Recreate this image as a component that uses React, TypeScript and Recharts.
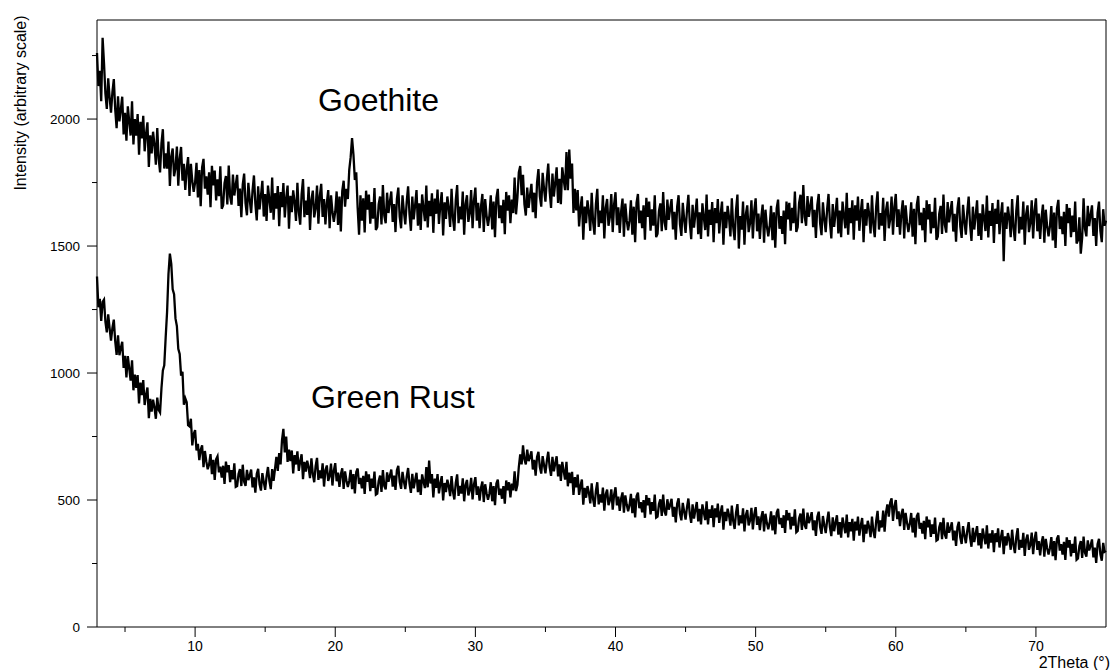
import { LineChart, Line, XAxis, YAxis, ReferenceLine } from 'recharts';

// XRD scans, 2theta 3.0 .. 75.0 deg in 0.1 deg steps (one row = one degree)
const goethite = [
  2260, 2130, 2190, 2070, 2320, 2220, 2100, 2040, 2160, 2085,
  2025, 2106, 2157, 2038, 1964, 2090, 1991, 2037, 2088, 1939,
  2025, 1915, 2050, 1990, 1935, 2070, 1900, 2000, 1935, 2020,
  1860, 1989, 1924, 2013, 1873, 1942, 1987, 1811, 1936, 1865,
  1950, 1900, 1820, 1965, 1845, 1790, 1905, 1960, 1805, 1865,
  1805, 1911, 1737, 1853, 1884, 1775, 1806, 1892, 1738, 1844,
  1890, 1757, 1824, 1721, 1803, 1850, 1697, 1824, 1756, 1713,
  1750, 1828, 1691, 1799, 1657, 1810, 1843, 1726, 1774, 1702,
  1790, 1653, 1816, 1739, 1797, 1680, 1763, 1696, 1814, 1647,
  1660, 1748, 1776, 1664, 1817, 1695, 1663, 1781, 1699, 1742,
  1780, 1658, 1726, 1614, 1742, 1785, 1668, 1621, 1749, 1682,
  1630, 1719, 1778, 1667, 1601, 1735, 1644, 1698, 1757, 1616,
  1705, 1599, 1738, 1682, 1631, 1770, 1604, 1708, 1647, 1736,
  1578, 1713, 1653, 1748, 1613, 1688, 1738, 1568, 1698, 1633,
  1719, 1674, 1599, 1749, 1634, 1584, 1704, 1764, 1614, 1679,
  1623, 1733, 1563, 1683, 1718, 1613, 1648, 1738, 1588, 1698,
  1745, 1615, 1685, 1585, 1670, 1720, 1570, 1700, 1635, 1595,
  1635, 1715, 1583, 1695, 1557, 1716, 1757, 1655, 1725, 1685,
  1800, 1850, 1925, 1860, 1760, 1790, 1650, 1545, 1700, 1600,
  1688, 1553, 1718, 1643, 1703, 1588, 1673, 1608, 1728, 1563,
  1575, 1665, 1695, 1585, 1740, 1620, 1590, 1710, 1630, 1675,
  1715, 1595, 1665, 1555, 1685, 1730, 1615, 1570, 1700, 1635,
  1585, 1675, 1735, 1625, 1560, 1695, 1605, 1660, 1720, 1580,
  1668, 1563, 1703, 1648, 1598, 1738, 1573, 1678, 1618, 1708,
  1552, 1687, 1627, 1722, 1587, 1662, 1712, 1542, 1672, 1607,
  1695, 1650, 1575, 1725, 1610, 1560, 1680, 1740, 1590, 1655,
  1605, 1715, 1545, 1665, 1700, 1595, 1630, 1720, 1570, 1680,
  1730, 1600, 1670, 1570, 1655, 1705, 1555, 1685, 1620, 1580,
  1620, 1700, 1565, 1675, 1535, 1690, 1725, 1610, 1660, 1590,
  1682, 1547, 1713, 1639, 1700, 1590, 1683, 1630, 1770, 1625,
  1690, 1790, 1815, 1700, 1780, 1665, 1620, 1730, 1650, 1700,
  1745, 1633, 1710, 1610, 1750, 1803, 1695, 1655, 1788, 1725,
  1675, 1765, 1825, 1715, 1650, 1785, 1695, 1750, 1810, 1670,
  1765, 1665, 1810, 1763, 1720, 1870, 1720, 1880, 1765, 1825,
  1630, 1725, 1640, 1720, 1577, 1648, 1696, 1525, 1655, 1590,
  1680, 1635, 1560, 1710, 1595, 1545, 1665, 1725, 1575, 1640,
  1590, 1700, 1530, 1650, 1685, 1580, 1615, 1705, 1555, 1665,
  1712, 1582, 1652, 1552, 1637, 1687, 1537, 1667, 1602, 1562,
  1600, 1680, 1545, 1655, 1515, 1670, 1705, 1590, 1640, 1570,
  1660, 1525, 1690, 1615, 1675, 1560, 1645, 1580, 1700, 1535,
  1548, 1638, 1668, 1558, 1713, 1593, 1563, 1683, 1603, 1648,
  1685, 1565, 1635, 1525, 1655, 1700, 1585, 1540, 1670, 1605,
  1552, 1642, 1702, 1592, 1527, 1662, 1572, 1627, 1687, 1547,
  1633, 1528, 1668, 1613, 1563, 1703, 1538, 1643, 1583, 1673,
  1515, 1650, 1590, 1685, 1550, 1625, 1675, 1505, 1635, 1570,
  1658, 1613, 1538, 1688, 1573, 1523, 1643, 1703, 1490, 1618,
  1565, 1675, 1505, 1625, 1660, 1555, 1590, 1680, 1530, 1640,
  1688, 1558, 1628, 1528, 1613, 1663, 1513, 1643, 1578, 1538,
  1578, 1658, 1523, 1633, 1493, 1648, 1683, 1568, 1618, 1548,
  1640, 1507, 1675, 1605, 1670, 1560, 1650, 1590, 1715, 1555,
  1575, 1670, 1702, 1590, 1740, 1615, 1580, 1697, 1615, 1658,
  1695, 1574, 1643, 1532, 1661, 1705, 1589, 1543, 1672, 1607,
  1555, 1645, 1705, 1595, 1530, 1665, 1575, 1630, 1690, 1550,
  1640, 1535, 1675, 1620, 1570, 1710, 1545, 1650, 1590, 1680,
  1525, 1660, 1600, 1695, 1560, 1635, 1685, 1515, 1645, 1580,
  1670, 1625, 1550, 1700, 1585, 1535, 1655, 1715, 1565, 1630,
  1580, 1690, 1520, 1640, 1675, 1570, 1605, 1695, 1545, 1655,
  1705, 1575, 1645, 1545, 1630, 1680, 1530, 1660, 1595, 1555,
  1592, 1672, 1537, 1647, 1507, 1662, 1697, 1582, 1632, 1562,
  1650, 1515, 1680, 1605, 1665, 1550, 1635, 1570, 1690, 1525,
  1538, 1628, 1658, 1548, 1703, 1583, 1553, 1673, 1593, 1638,
  1677, 1557, 1627, 1517, 1647, 1692, 1577, 1532, 1662, 1597,
  1545, 1635, 1695, 1585, 1520, 1655, 1565, 1620, 1680, 1540,
  1629, 1524, 1664, 1609, 1559, 1699, 1534, 1639, 1579, 1669,
  1512, 1647, 1587, 1682, 1547, 1622, 1672, 1440, 1632, 1567,
  1655, 1610, 1535, 1685, 1570, 1520, 1640, 1700, 1550, 1615,
  1565, 1675, 1505, 1625, 1660, 1555, 1590, 1680, 1530, 1640,
  1688, 1558, 1628, 1528, 1613, 1663, 1513, 1643, 1578, 1538,
  1577, 1657, 1522, 1632, 1492, 1647, 1682, 1567, 1617, 1547,
  1635, 1500, 1665, 1590, 1650, 1535, 1620, 1555, 1675, 1510,
  1523, 1613, 1470, 1533, 1688, 1568, 1538, 1658, 1578, 1623,
  1660, 1540, 1610, 1500, 1630, 1675, 1560, 1515, 1645, 1580,
  1600,
];

const greenRust = [
  1380, 1259, 1292, 1205, 1280, 1289, 1202, 1160, 1231, 1176,
  1128, 1178, 1210, 1125, 1071, 1148, 1070, 1099, 1123, 1020,
  1068, 983, 1067, 1018, 970, 1050, 932, 994, 942, 992,
  880, 962, 913, 972, 874, 914, 943, 822, 898, 848,
  895, 865, 820, 903, 855, 845, 940, 1010, 1030, 1140,
  1240, 1390, 1470, 1430, 1330, 1310, 1215, 1185, 1095, 1075,
  990, 1005, 875, 900, 885, 795, 790, 820, 715, 760,
  775, 695, 721, 657, 698, 715, 629, 693, 652, 621,
  640, 681, 602, 658, 579, 660, 672, 609, 631, 588,
  635, 563, 651, 609, 637, 570, 618, 581, 644, 552,
  555, 603, 622, 555, 639, 572, 556, 619, 578, 596,
  620, 550, 589, 529, 603, 623, 562, 537, 606, 571,
  540, 593, 630, 575, 543, 622, 575, 622, 670, 615,
  685, 640, 735, 780, 687, 750, 650, 698, 653, 695,
  605, 677, 640, 692, 615, 652, 680, 582, 650, 612,
  655, 628, 586, 664, 602, 570, 633, 666, 579, 617,
  585, 644, 553, 617, 636, 575, 594, 643, 557, 616,
  645, 574, 608, 552, 601, 625, 544, 613, 577, 551,
  575, 619, 543, 602, 526, 610, 624, 563, 587, 546,
  595, 524, 613, 572, 601, 535, 584, 548, 612, 521,
  525, 575, 596, 532, 618, 555, 542, 609, 572, 595,
  620, 553, 596, 540, 617, 635, 572, 544, 611, 573,
  543, 592, 626, 565, 528, 603, 546, 578, 607, 531,
  580, 520, 601, 573, 547, 630, 550, 655, 565, 602,
  510, 584, 548, 602, 526, 565, 594, 498, 567, 531,
  580, 555, 515, 594, 533, 502, 567, 601, 516, 556,
  525, 585, 495, 559, 579, 518, 538, 587, 502, 561,
  590, 520, 554, 498, 548, 573, 492, 562, 527, 501,
  525, 570, 495, 555, 480, 565, 580, 520, 545, 505,
  555, 486, 577, 538, 570, 510, 565, 538, 613, 535,
  560, 630, 680, 640, 715, 660, 640, 698, 653, 670,
  692, 620, 658, 596, 670, 690, 630, 604, 673, 637,
  605, 655, 690, 630, 595, 670, 613, 645, 672, 593,
  640, 575, 650, 615, 580, 650, 554, 608, 567, 611,
  520, 590, 550, 600, 520, 555, 581, 482, 548, 509,
  555, 529, 487, 566, 504, 473, 536, 570, 483, 522,
  490, 549, 458, 522, 541, 480, 499, 542, 462, 521,
  550, 479, 513, 457, 506, 530, 450, 518, 482, 456,
  480, 524, 448, 507, 431, 515, 529, 468, 492, 451,
  500, 430, 519, 479, 508, 443, 492, 457, 521, 431,
  435, 484, 503, 437, 521, 455, 439, 503, 462, 481,
  505, 434, 473, 412, 486, 507, 446, 420, 489, 454,
  423, 472, 506, 445, 410, 483, 427, 461, 492, 416,
  465, 404, 483, 452, 421, 495, 404, 463, 430, 479,
  393, 467, 432, 486, 410, 450, 479, 383, 453, 417,
  466, 440, 399, 478, 417, 386, 450, 484, 400, 439,
  408, 467, 376, 440, 460, 400, 419, 469, 384, 443,
  472, 402, 436, 381, 431, 456, 376, 446, 410, 385,
  410, 455, 380, 440, 365, 450, 465, 405, 430, 390,
  440, 370, 460, 420, 449, 384, 434, 399, 463, 373,
  378, 428, 447, 382, 466, 401, 386, 450, 409, 428,
  452, 381, 420, 359, 433, 454, 393, 367, 437, 401,
  370, 419, 454, 393, 358, 432, 377, 411, 440, 364,
  413, 352, 431, 400, 369, 443, 353, 413, 377, 426,
  340, 415, 380, 435, 360, 399, 429, 334, 403, 368,
  418, 393, 354, 435, 377, 350, 418, 457, 376, 420,
  392, 458, 375, 450, 483, 435, 490, 507, 418, 475,
  500, 425, 455, 397, 444, 465, 382, 449, 411, 383,
  406, 449, 372, 430, 353, 436, 449, 387, 410, 368,
  418, 346, 435, 393, 422, 355, 404, 367, 431, 340,
  344, 393, 412, 346, 430, 364, 348, 412, 371, 389,
  412, 341, 380, 319, 393, 414, 353, 327, 397, 361,
  330, 379, 413, 352, 316, 390, 334, 368, 397, 321,
  370, 309, 388, 357, 326, 400, 309, 368, 332, 381,
  295, 369, 334, 388, 313, 353, 382, 287, 357, 321,
  370, 344, 304, 383, 322, 291, 355, 389, 304, 343,
  312, 371, 280, 344, 364, 304, 323, 372, 287, 346,
  375, 304, 338, 282, 332, 357, 277, 347, 311, 285,
  310, 354, 279, 338, 263, 347, 361, 301, 326, 285,
  335, 264, 353, 313, 342, 278, 327, 292, 356, 265,
  270, 319, 338, 272, 356, 292, 277, 341, 301, 320,
  345, 274, 313, 252, 326, 347, 286, 261, 331, 296,
  300,
];

// measurement grid: 3.0 .. 75.0 deg, 0.1 deg steps
const twoTheta = goethite.map((_, i) => (30 + i) / 10);

const xTicks = [5, 10, 15, 20, 25, 30, 35, 40, 45, 50, 55, 60, 65, 70];
const yTicks = [0, 250, 500, 750, 1000, 1250, 1500, 1750, 2000, 2250];

const FONT = '"Liberation Sans", Arial, sans-serif';

const data = twoTheta.map((t, i) => ({ t, goethite: goethite[i], greenRust: greenRust[i] }));

function YTick(props: any) {
  const { x, y, payload } = props;
  const major = payload.value % 500 === 0;
  return (
    <g>
      <line x1={x - (major ? 10 : 5)} x2={x} y1={y} y2={y} stroke="#000" />
      {major && (
        <text x={x - 17} y={y} textAnchor="end" dominantBaseline="central" fontSize={13.5} fontFamily={FONT} fill="#000">
          {payload.value}
        </text>
      )}
    </g>
  );
}

function XTick(props: any) {
  const { x, y, payload } = props;
  const major = payload.value % 10 === 0;
  return (
    <g>
      <line x1={x} x2={x} y1={y} y2={y + (major ? 10 : 5)} stroke="#000" />
      {major && (
        <text x={x} y={y + 24} textAnchor="middle" fontSize={14} fontFamily={FONT} fill="#000">
          {payload.value}
        </text>
      )}
    </g>
  );
}

export default function App() {
  return (
    <div style={{ position: 'absolute', left: 0, top: 0, width: 1113, height: 670, background: '#fff' }}>
      <LineChart width={1113} height={670} data={data} margin={{ top: 20, right: 7, bottom: 0, left: 0 }}>
        <XAxis
          dataKey="t"
          type="number"
          domain={[3, 75]}
          ticks={xTicks}
          height={43}
          tickSize={0}
          tickMargin={0}
          tickLine={false}
          axisLine={{ stroke: '#000' }}
          tick={<XTick />}
          interval={0}
        />
        <YAxis
          type="number"
          domain={[0, 2390]}
          ticks={yTicks}
          width={97}
          tickSize={0}
          tickMargin={0}
          tickLine={false}
          axisLine={{ stroke: '#000' }}
          tick={<YTick />}
          interval={0}
        />
        <ReferenceLine y={2390} stroke="#000" />
        <ReferenceLine x={75} stroke="#000" />
        <Line dataKey="goethite" type="linear" stroke="#000" strokeWidth={2.3} strokeLinejoin="miter" dot={false} isAnimationActive={false} />
        <Line dataKey="greenRust" type="linear" stroke="#000" strokeWidth={2.3} strokeLinejoin="miter" dot={false} isAnimationActive={false} />
        <text x={318} y={111} fontSize={32} fontFamily={FONT} fill="#000">Goethite</text>
        <text x={311} y={408} fontSize={32} fontFamily={FONT} fill="#000">Green Rust</text>
        <text x={1110} y={668} textAnchor="end" fontSize={16} fontFamily={FONT} fill="#000">2Theta (°)</text>
        <text
          x={20}
          y={103}
          textAnchor="middle"
          dominantBaseline="central"
          fontSize={16}
          fontFamily={FONT}
          fill="#000"
          transform="rotate(-90, 20, 103)"
        >
          Intensity (arbitrary scale)
        </text>
      </LineChart>
    </div>
  );
}
